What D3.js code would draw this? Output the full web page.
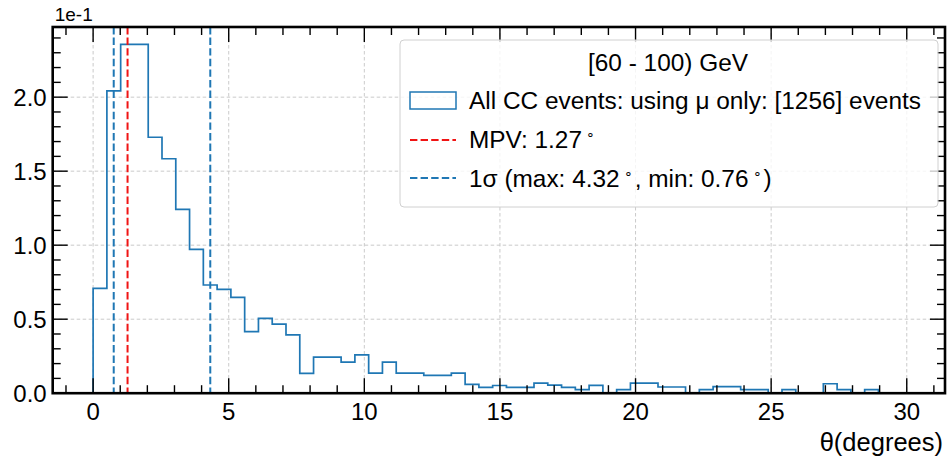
<!DOCTYPE html>
<html><head><meta charset="utf-8">
<script src="https://cdn.jsdelivr.net/npm/d3@7"></script>
<style>
body{margin:0;background:#fff}
svg{display:block}
text{font-family:"Liberation Sans", Arial, Helvetica, sans-serif; fill:#000}
</style>
</head><body>
<svg id="chart" width="951" height="460"></svg>
<script>
// ---- data ----
const binStart = 0;
const binWidth = 0.508;
// density per bin (actual values; axis shows them in units of 1e-1)
const density = [0.0708,0.2042,0.2356,0.2356,0.1729,0.1584,0.1242,0.0971,0.0731,0.0702,
  0.0648,0.0416,0.0506,0.0466,0.0394,0.0134,0.0244,0.0244,0.0210,0.0259,
  0.0136,0.0210,0.0136,0.0136,0.0120,0.0120,0.0136,0.0060,0.0040,0.0052,
  0.0040,0.0040,0.0068,0.0055,0.0040,0.0024,0.0053,0,0.0024,0.0068,
  0.0068,0.0042,0.0042,0,0.0024,0.0044,0.0044,0.0024,0.0024,0,
  0.0024,0,0,0.0064,0.0024,0,0.0024,0,0];
const xTicks = [0,5,10,15,20,25,30];
const xMinorTicks = [-1,1,2,3,4,6,7,8,9,11,12,13,14,16,17,18,19,21,22,23,24,26,27,28,29,31];
const yTicks = [0,0.05,0.10,0.15,0.20];
const yMinorTicks = [0.01,0.02,0.03,0.04,0.06,0.07,0.08,0.09,0.11,0.12,0.13,0.14,0.16,0.17,0.18,0.19,0.21,0.22,0.23,0.24];
const mpv = 1.27;
const sigmaMax = 4.32;
const sigmaMin = 0.76;
const legendTitle = "[60 - 100) GeV";
const legendLabels = ["All CC events: using \u03bc only: [1256] events", "MPV: 1.27\u00b0", "1\u03c3 (max: 4.32\u00b0, min: 0.76\u00b0)"];
const xLabel = "\u03b8(degrees)";
const yOffsetLabel = "1e-1";

// ---- layout ----
const svg = d3.select("#chart");
const L = 52.7, R = 945, T = 27, B = 393.2;
const x = d3.scaleLinear().domain([-1.49, 31.41]).range([L, R]);
const y = d3.scaleLinear().domain([0, 0.2474]).range([B, T]);
const blue = "#1f77b4", red = "#f01414";
const dash = "7.4,3.2";

// grid
const grid = svg.append("g");
grid.selectAll(".gx").data(xTicks).join("line")
  .attr("x1", d => x(d)).attr("x2", d => x(d)).attr("y1", T).attr("y2", B)
  .attr("stroke", "#c4c4c4").attr("stroke-width", 0.9).attr("stroke-dasharray", "3.5,2.5");
grid.selectAll(".gy").data(yTicks.filter(d => d > 0)).join("line")
  .attr("x1", L).attr("x2", R).attr("y1", d => y(d)).attr("y2", d => y(d))
  .attr("stroke", "#c4c4c4").attr("stroke-width", 0.9).attr("stroke-dasharray", "3.5,2.5");

// histogram step outline
const edges = d3.range(density.length + 1).map(i => binStart + i * binWidth);
const pts = [[edges[0], 0]];
density.forEach((v, i) => { pts.push([edges[i], v]); pts.push([edges[i + 1], v]); });
pts.push([edges[edges.length - 1], 0]);
svg.append("path").datum(pts)
  .attr("d", d3.line().x(d => x(d[0])).y(d => y(d[1])))
  .attr("fill", "none").attr("stroke", blue).attr("stroke-width", 1.7);

// vertical dashed lines
const vlines = [{v: sigmaMin, c: blue}, {v: mpv, c: red}, {v: sigmaMax, c: blue}];
svg.selectAll(".vl").data(vlines).join("line")
  .attr("x1", d => x(d.v)).attr("x2", d => x(d.v)).attr("y1", T).attr("y2", B)
  .attr("stroke", d => d.c).attr("stroke-width", 2).attr("stroke-dasharray", dash);

// ticks (inward, all sides)
const tk = svg.append("g").attr("stroke", "#000").attr("stroke-width", 1.4);
const majLen = 15, minLen = 8;
xTicks.forEach(d => {
  tk.append("line").attr("x1", x(d)).attr("x2", x(d)).attr("y1", B).attr("y2", B - majLen);
  tk.append("line").attr("x1", x(d)).attr("x2", x(d)).attr("y1", T).attr("y2", T + majLen);
});
xMinorTicks.forEach(d => {
  tk.append("line").attr("x1", x(d)).attr("x2", x(d)).attr("y1", B).attr("y2", B - minLen);
  tk.append("line").attr("x1", x(d)).attr("x2", x(d)).attr("y1", T).attr("y2", T + minLen);
});
yTicks.forEach(d => {
  tk.append("line").attr("x1", L).attr("x2", L + majLen).attr("y1", y(d)).attr("y2", y(d));
  tk.append("line").attr("x1", R).attr("x2", R - majLen).attr("y1", y(d)).attr("y2", y(d));
});
yMinorTicks.forEach(d => {
  tk.append("line").attr("x1", L).attr("x2", L + minLen).attr("y1", y(d)).attr("y2", y(d));
  tk.append("line").attr("x1", R).attr("x2", R - minLen).attr("y1", y(d)).attr("y2", y(d));
});

// frame
svg.append("rect").attr("x", L).attr("y", T).attr("width", R - L).attr("height", B - T)
  .attr("fill", "none").attr("stroke", "#000").attr("stroke-width", 2.6);

// tick labels
svg.selectAll(".xl").data(xTicks).join("text")
  .attr("x", d => x(d)).attr("y", B + 27).attr("text-anchor", "middle")
  .attr("font-size", 24).text(d => d);
svg.selectAll(".yl").data(yTicks).join("text")
  .attr("x", L - 6).attr("y", d => y(d) + 8.5).attr("text-anchor", "end")
  .attr("font-size", 24).text(d => (d * 10).toFixed(1));
svg.append("text").attr("x", L + 2).attr("y", 21).attr("font-size", 19).text(yOffsetLabel);
svg.append("text").attr("x", R - 2).attr("y", 451).attr("text-anchor", "end")
  .attr("font-size", 25.5).text(xLabel);

// legend
const lg = svg.append("g");
lg.append("rect").attr("x", 400).attr("y", 40).attr("width", 538).attr("height", 167).attr("rx", 4)
  .attr("fill", "#fff").attr("fill-opacity", 0.8).attr("stroke", "#d0d0d0").attr("stroke-width", 1);
lg.append("text").attr("x", 668).attr("y", 71).attr("text-anchor", "middle").attr("font-size", 24.4).text(legendTitle);
lg.append("rect").attr("x", 410).attr("y", 92).attr("width", 46).attr("height", 17)
  .attr("fill", "none").attr("stroke", blue).attr("stroke-width", 1.5);
lg.append("line").attr("x1", 410).attr("x2", 456).attr("y1", 140).attr("y2", 140)
  .attr("stroke", red).attr("stroke-width", 2).attr("stroke-dasharray", dash);
lg.append("line").attr("x1", 410).attr("x2", 456).attr("y1", 178).attr("y2", 178)
  .attr("stroke", blue).attr("stroke-width", 2).attr("stroke-dasharray", dash);
const rowY = [109, 148, 187];
legendLabels.forEach((t, i) => {
  const te = lg.append("text").attr("x", 469).attr("y", rowY[i]).attr("font-size", 24.4);
  const parts = t.split("\u00b0");
  parts.forEach((p, j) => {
    if (p.length) {
      const sp = te.append("tspan").text(p);
      if (j > 0) sp.attr("dx", 2).attr("dy", 9);
    }
    if (j < parts.length - 1) {
      te.append("tspan").attr("dx", 4).attr("dy", -9).attr("font-size", 14).text("\u2218");
    }
  });
});
</script>
</body></html>
